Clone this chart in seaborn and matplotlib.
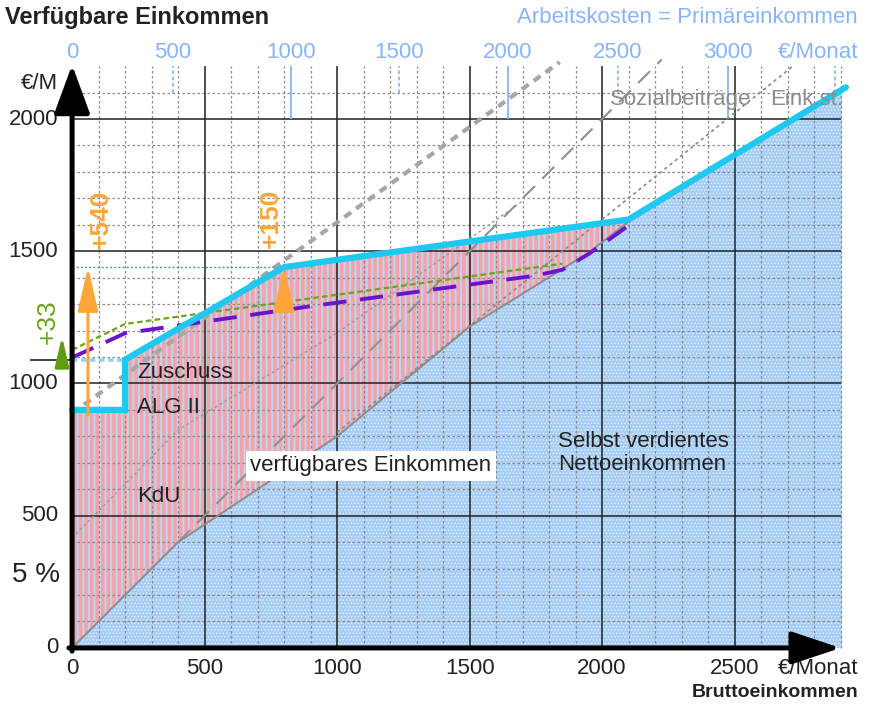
import numpy as np
import matplotlib
matplotlib.use('Agg')
import matplotlib.pyplot as plt
import seaborn as sns

sns.set_theme(style="white")
plt.rcParams['font.family'] = ['Liberation Sans', 'DejaVu Sans']

# --- data (gross income in EUR/month -> EUR/month) ---
net_x = [0, 400, 1000, 1500, 1950, 2100, 2905]
net_y = [0, 400, 800, 1215, 1495, 1612, 2105]          # selbst verdientes Nettoeinkommen

avail_x = [0, 200, 200, 800, 2100, 2920]
avail_y = [900, 900, 1090, 1440, 1620, 2120]            # verfuegbares Einkommen

purple_x = [0, 200, 900, 1750, 1850, 1950, 2090]
purple_y = [1098, 1190, 1292, 1408, 1430, 1490, 1590]

green_x = [0, 200, 1850]
green_y = [1127, 1225, 1453]

sozial_x = [0, 1840]          # thick gray dashed
sozial_y = [888, 2215]
brutto_x = [400, 2225]        # gray long dash (gross = gross)
brutto_y = [400, 2225]
kdu_x = [0, 400, 1000, 1700]  # thin gray dotted
kdu_y = [416, 824, 1191, 1690]
steuer_x = [1000, 2720]       # thin gray dotted
steuer_y = [815, 2200]

x_ticks = [0, 500, 1000, 1500, 2000, 2500]
y_ticks = [0, 500, 1000, 1500, 2000]
labor_pos = [0, 380, 825, 1235, 1645, 2060, 2475, 2880]
labor_labels = ['0', '500', '1000', '1500', '2000', '2500', '3000', '€/Monat']

arrow_540 = (60, 880, 1440)
arrow_150 = (800, 1290, 1440)
arrow_33 = (-38, 1085, 1178)

FS = 16

fig = plt.figure(figsize=(8.7, 7.04), dpi=100)
ax = fig.add_axes([0, 0, 1, 1])
ax.set_xlim(-272, 3011)
ax.set_ylim(-212, 2450)
ax.axis('off')

# fills
with plt.rc_context({'hatch.linewidth': 0.6}):
    ax.fill_between(net_x, 0, net_y, facecolor='#a6cdf6', edgecolor='#e8f2fd',
                    hatch='.....', linewidth=0, zorder=1)
poly_x = np.concatenate([avail_x[:-1], net_x[::-1]])
poly_y = np.concatenate([avail_y[:-1], net_y[::-1]])
with plt.rc_context({'hatch.linewidth': 2.5}):
    ax.fill(poly_x, poly_y, facecolor='#bcd5f3', edgecolor='#f6a2a6',
            hatch='|||', linewidth=0, zorder=1)

# grid
minor = [v for v in range(100, 3000, 100) if v % 500 != 0 or v > 2500]
ax.vlines(minor, 0, 2200, colors='#8a8a8a', linestyles=(0, (2, 2)), lw=0.9, zorder=2)
hminor = [v for v in range(100, 2200, 100) if v % 500 != 0]
ax.hlines(hminor, 0, 2900, colors='#8a8a8a', linestyles=(0, (2, 2)), lw=0.9, zorder=2)
ax.vlines(x_ticks[1:], 0, 2200, colors='#222222', lw=1.1, zorder=2)
ax.hlines(y_ticks[1:], 0, 2900, colors='#222222', lw=1.1, zorder=2)
ax.hlines(1090, -158, 0, colors='#333333', lw=1.3, zorder=2)

# top axis (Arbeitskosten) markers
for p, lab in zip(labor_pos, labor_labels):
    solid = lab in ('1000', '2000', '3000')
    if p > 0:
        ax.vlines(p, 2000 if solid else 2100, 2200, colors='#8ab4f8',
                  linestyles='-' if solid else (0, (2, 1.5)), lw=1.3, zorder=3)
    if lab == '€/Monat':
        ax.text(2966, 2250, lab, ha='right', va='center', fontsize=FS, color='#8ab4f8')
    else:
        ax.text(p, 2250, lab, ha='center', va='center', fontsize=FS, color='#8ab4f8')

# gray helper lines
ax.plot(net_x, net_y, color='#8c8c8c', lw=1.4, zorder=3)
ax.plot(sozial_x, sozial_y, color='#a6a6a6', lw=3, dashes=(2, 1.5), zorder=3)
ax.plot(brutto_x, brutto_y, color='#909090', lw=1.5, dashes=(8, 5), zorder=3)
ax.plot(kdu_x, kdu_y, color='#9a9a9a', lw=1, dashes=(2, 2), zorder=3)
ax.plot(steuer_x, steuer_y, color='#8a8a8a', lw=1.2, dashes=(2, 2), zorder=3)

ax.hlines(1440, 0, 800, colors='#3aa0a0', linestyles=(0, (1.5, 1.5)), lw=1, zorder=3)
ax.hlines(1090, 0, 200, colors='#8fd3f8', linestyles=(0, (1.5, 1)), lw=2.6, zorder=3)

ax.plot(green_x, green_y, color='#6ba31c', lw=1.6, dashes=(2.5, 1.5), zorder=4)
ax.plot(purple_x, purple_y, color='#6a14d0', lw=2.8, dashes=(6, 3.5), zorder=4)
ax.plot(avail_x, avail_y, color='#1ec8f0', lw=4.5, solid_capstyle='round',
        solid_joinstyle='miter', zorder=5)

# arrows
for (xa, y0, y1), col, ms in [(arrow_540, '#ffa53a', 18), (arrow_150, '#ffa53a', 18),
                              (arrow_33, '#5e9c12', 12)]:
    ax.annotate('', xy=(xa, y1), xytext=(xa, y0),
                arrowprops=dict(arrowstyle='-|>,head_length=1.5,head_width=0.35',
                                color=col, lw=2.2, shrinkA=0, shrinkB=0,
                                mutation_scale=ms), zorder=6)

# axes arrows
ax.annotate('', xy=(0, 2205), xytext=(0, -12),
            arrowprops=dict(arrowstyle='-|>,head_length=1.5,head_width=0.55', color='black',
                            lw=3.6, shrinkA=0, shrinkB=0, mutation_scale=20), zorder=7)
ax.annotate('', xy=(2900, 0), xytext=(-12, 0),
            arrowprops=dict(arrowstyle='-|>,head_length=1.5,head_width=0.5', color='black',
                            lw=3.6, shrinkA=0, shrinkB=0, mutation_scale=20), zorder=7)

# tick labels
for v in y_ticks:
    ax.text(-52, v, str(v), ha='right', va='center', fontsize=FS, color='#222222')
for v in x_ticks:
    ax.text(v, -78, str(v), ha='center', va='center', fontsize=FS, color='#222222')
ax.text(2966, -78, '€/Monat', ha='right', va='center', fontsize=FS, color='#222222')
ax.text(2966, -168, 'Bruttoeinkommen', ha='right', va='center', fontsize=14,
        fontweight='bold', color='#222222')
ax.text(-52, 2136, '€/M', ha='right', va='center', fontsize=FS, color='#222222')
ax.text(-253, 2382, 'Verfügbare Einkommen', ha='left', va='center', fontsize=17,
        fontweight='bold', color='#222222')
ax.text(2966, 2382, 'Arbeitskosten = Primäreinkommen', ha='right', va='center',
        fontsize=FS, color='#8ab4f8')
ax.text(-45, 276, '5 %', ha='right', va='center', fontsize=20, color='#222222')

# annotations
ax.text(110, 1622, '+540', rotation=90, ha='center', va='center', fontsize=19,
        color='#ffa53a', fontweight='bold')
ax.text(750, 1625, '+150', rotation=90, ha='center', va='center', fontsize=19,
        color='#ffa53a', fontweight='bold')
ax.text(-90, 1232, '+33', rotation=90, ha='center', va='center', fontsize=19,
        color='#6ba31c')
ax.text(245, 1043, 'Zuschuss', ha='left', va='center', fontsize=FS, color='#222222', zorder=8)
ax.text(245, 911, 'ALG II', ha='left', va='center', fontsize=FS, color='#222222', zorder=8)
ax.text(245, 571, 'KdU', ha='left', va='center', fontsize=FS, color='#222222', zorder=8)
ax.text(672, 688, 'verfügbares Einkommen', ha='left', va='center', fontsize=FS,
        color='#222222', zorder=8,
        bbox=dict(boxstyle='square,pad=0.2', facecolor='white', edgecolor='none'))
ax.text(1834, 736, 'Selbst verdientes\nNettoeinkommen', ha='left', va='center',
        fontsize=FS, color='#222222', linespacing=1.15, zorder=8)
ax.text(2030, 2072, 'Sozialbeiträge', ha='left', va='center', fontsize=FS,
        color='#8c8c8c', zorder=8)
ax.text(2635, 2072, 'Eink.st.', ha='left', va='center', fontsize=FS,
        color='#8c8c8c', zorder=8)

fig.savefig('out.png', dpi=100, facecolor='white')
